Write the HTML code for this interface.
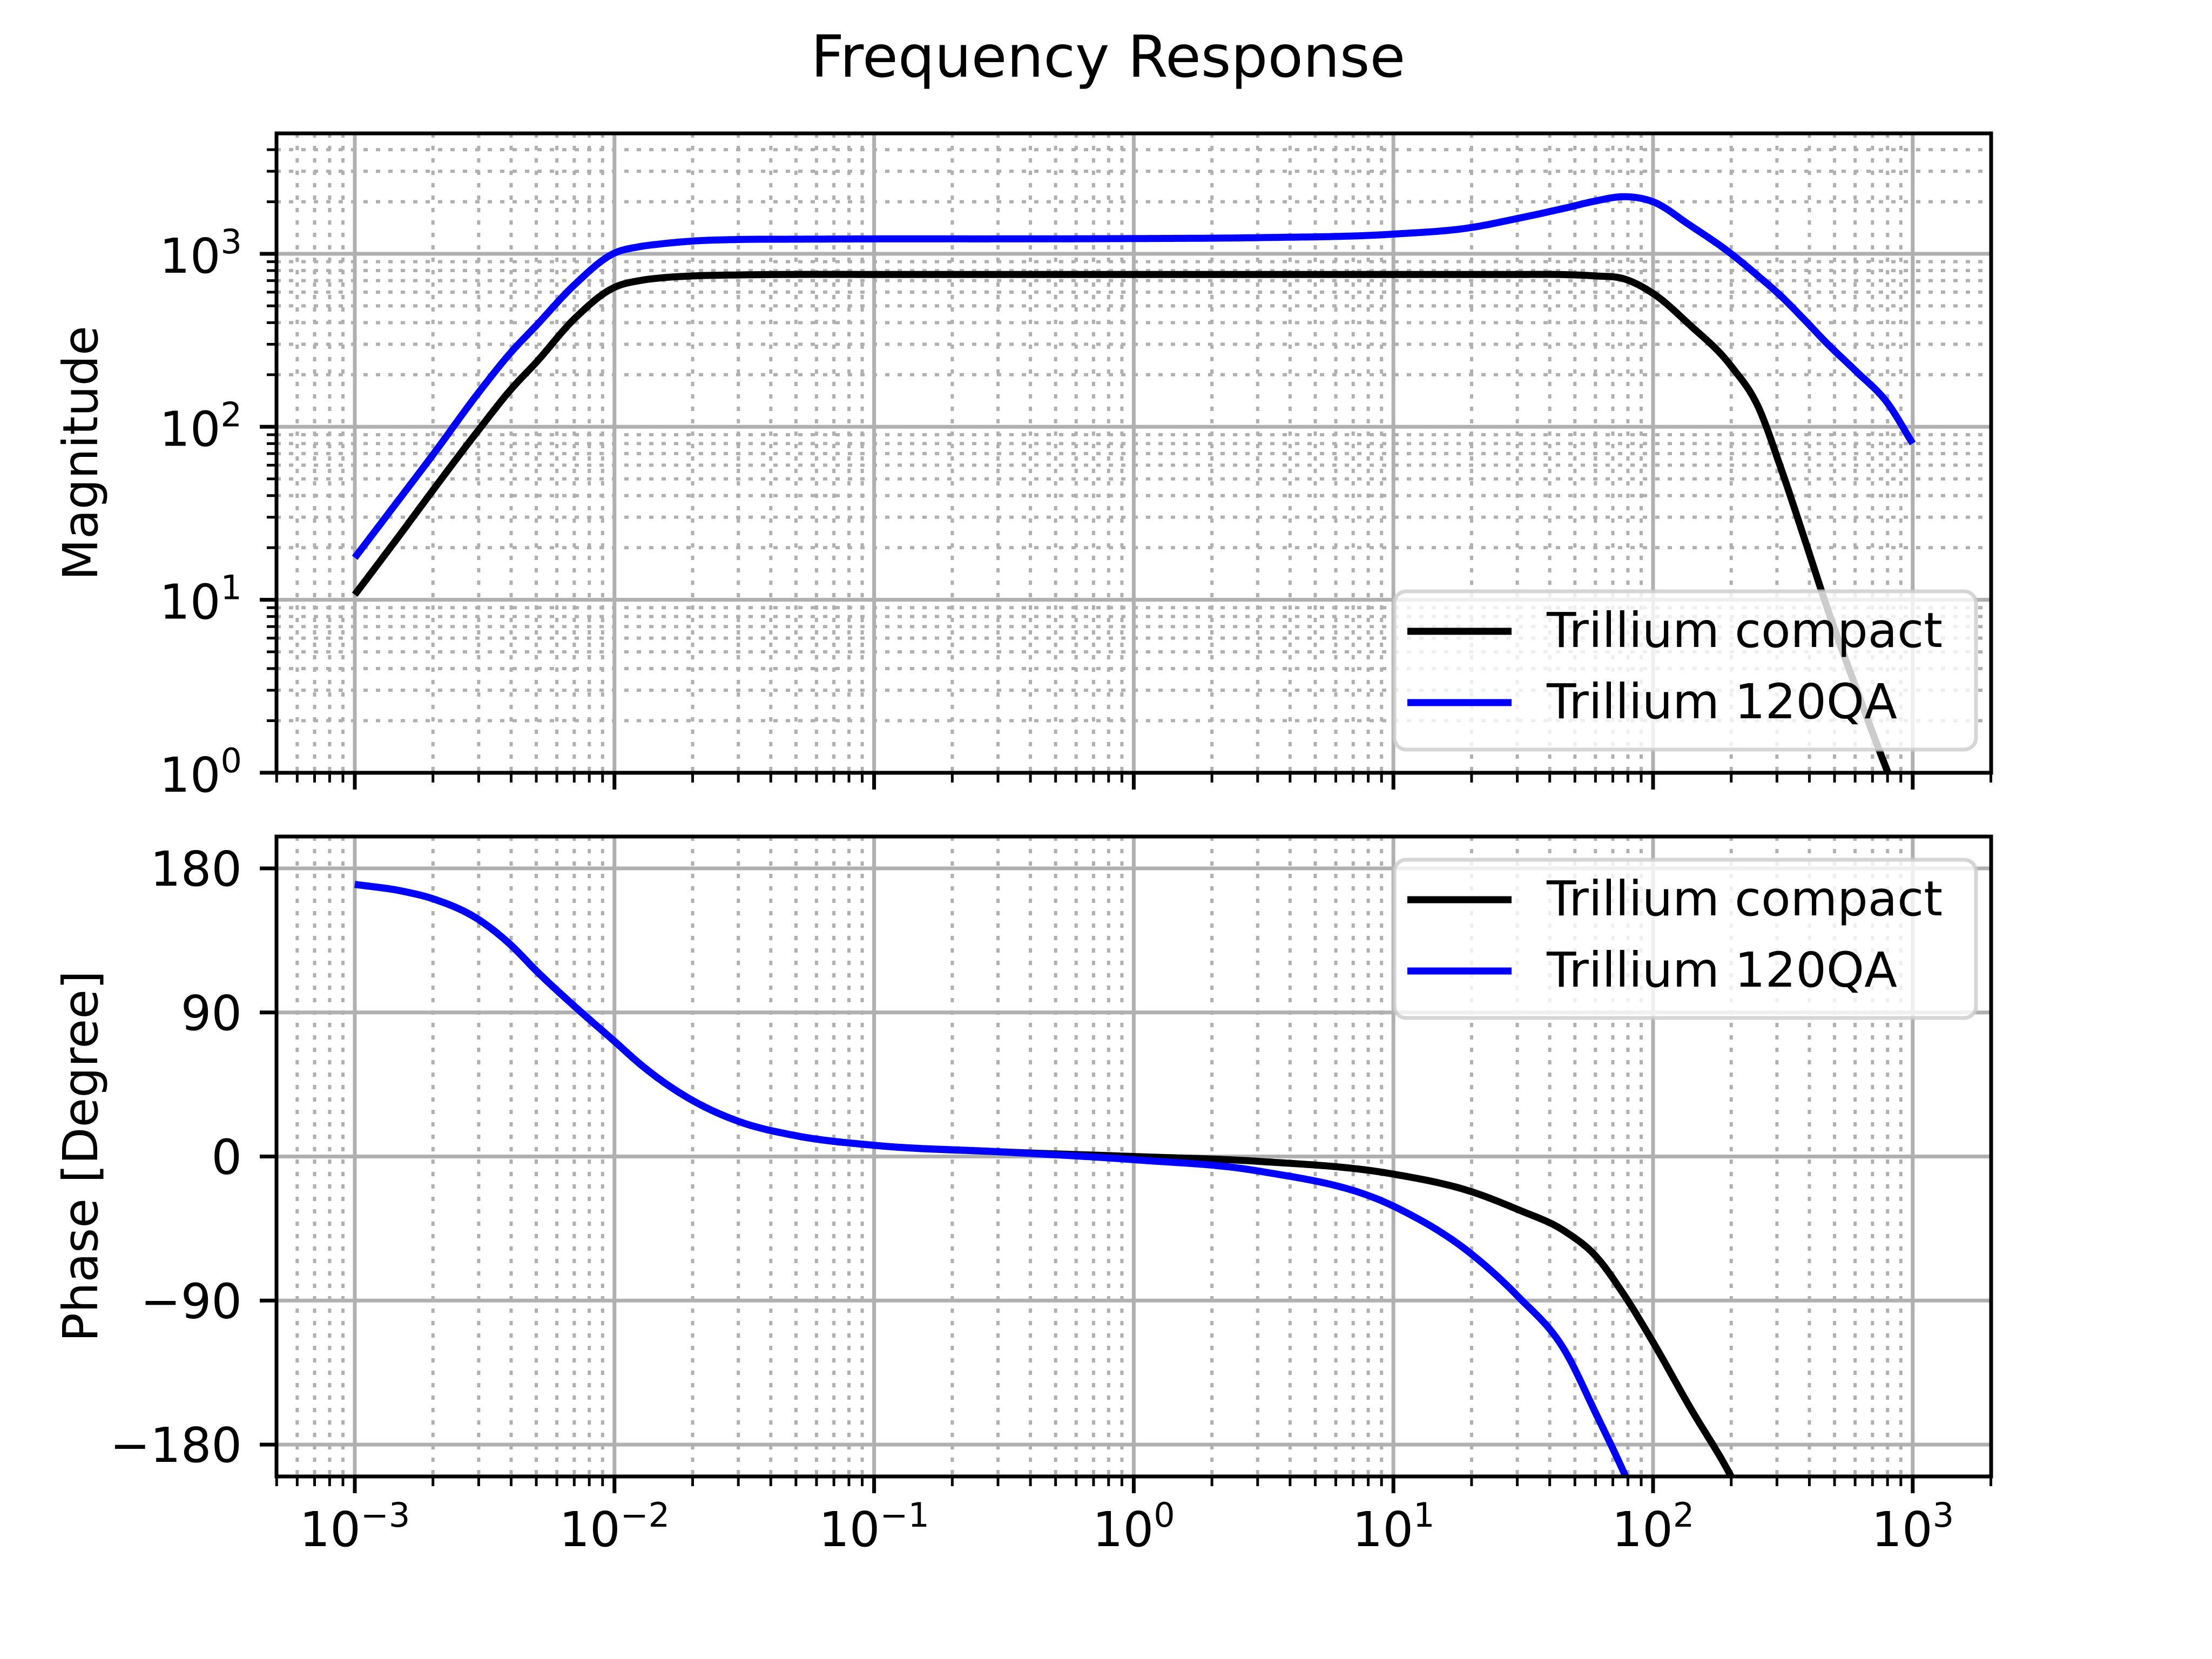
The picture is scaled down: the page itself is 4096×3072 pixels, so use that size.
<!DOCTYPE html>
<html><head><meta charset="utf-8"><style>
html,body{margin:0;padding:0;background:#fff;width:4096px;height:3072px;overflow:hidden;position:relative;}
svg{display:block;position:absolute;left:0;top:0;font-family:"DejaVu Sans","Liberation Sans",sans-serif;}
</style></head><body>
<svg id="chart" width="4096" height="3072" viewBox="0 0 4096 3072" xmlns="http://www.w3.org/2000/svg">
<rect width="4096" height="3072" fill="#fff"/>
<defs>
<clipPath id="clipTop"><rect x="512" y="247" width="3175" height="1184"/></clipPath>
<clipPath id="clipBot"><rect x="512" y="1549" width="3175" height="1185"/></clipPath>
</defs>
<text x="2052" y="142" font-size="107" text-anchor="middle">Frequency Response</text>
<g id="gridTop" clip-path="url(#clipTop)"></g>
<g id="gridBot" clip-path="url(#clipBot)"></g>
<g id="linesTop" clip-path="url(#clipTop)"></g>
<g id="linesBot" clip-path="url(#clipBot)"></g>
<g id="axes"></g>
<text x="0" y="0" font-size="89" text-anchor="middle" transform="translate(180 839) rotate(-90)">Magnitude</text>
<text x="0" y="0" font-size="89" text-anchor="middle" transform="translate(180 2141) rotate(-90)">Phase [Degree]</text>
<g id="legendTop">
<rect x="2582" y="1095" width="1077" height="293" rx="22" fill="#fff" fill-opacity="0.8" stroke="#cccccc" stroke-opacity="0.8" stroke-width="7"/>
<line x1="2606" y1="1169" x2="2799" y2="1169" stroke="#000" stroke-width="13"/>
<text x="2864" y="1198" font-size="89">Trillium compact</text>
<line x1="2606" y1="1301" x2="2799" y2="1301" stroke="#0000ff" stroke-width="13"/>
<text x="2864" y="1330" font-size="89">Trillium 120QA</text>
</g>
<g id="legendBot">
<rect x="2582" y="1592" width="1077" height="293" rx="22" fill="#fff" fill-opacity="0.8" stroke="#cccccc" stroke-opacity="0.8" stroke-width="7"/>
<line x1="2606" y1="1666" x2="2799" y2="1666" stroke="#000" stroke-width="13"/>
<text x="2864" y="1695" font-size="89">Trillium compact</text>
<line x1="2606" y1="1798" x2="2799" y2="1798" stroke="#0000ff" stroke-width="13"/>
<text x="2864" y="1827" font-size="89">Trillium 120QA</text>
</g>
</svg>
<script>
const freq = [0.001,0.0015,0.002,0.003,0.004,0.005,0.007,0.01,0.0125,0.015,0.02,0.03,0.05,0.1,0.3,1,3,10,20,30,46,60,77,100,138,200,255,309,385,468,600,803,1000];
const magCompact = [10.7,24,43,96,165,236,420,640,700,725,745,755,760,760,760,760,760,760,760,760,758,745,718,590,390,224,129,59,22,9,3.2,1.0,0.45];
const magQA = [17.5,39,69,158,270,385,660,1010,1100,1140,1185,1210,1215,1220,1220,1225,1240,1300,1420,1600,1840,2020,2140,2000,1470,1000,740,575,412,303,212,136,80];
const phaseCompact = [170,166,161,148,132,116,94,72,58,48,35,22,13,7,3,0,-3,-11,-22,-33,-47,-62,-86,-116,-156,-200,-235,-265,-290,-310,-330,-350,-360];
const phaseQA = [170,166,161,148,132,116,94,72,58,48,35,22,13,7,3,-2,-9,-31,-61,-87,-122,-160,-197,-240,-280,-320,-340,-355,-365,-370,-375,-380,-385];
const xTickExp = [-3,-2,-1,0,1,2,3];
const magTickExp = [0,1,2,3];
const phaseTicks = [180,90,0,-90,-180];

const NS="http://www.w3.org/2000/svg";
const X0=657, XD=480.8;
function xs(f){return X0+(Math.log10(f)+3)*XD;}
function yMag(m){return 470+(3-Math.log10(m))*320.3;}
function yPh(p){return 1608+(180-p)*2.964;}
function mk(tag,attrs,parent){const e=document.createElementNS(NS,tag);for(const k in attrs)e.setAttribute(k,attrs[k]);parent.appendChild(e);return e;}
const gT=document.getElementById('gridTop'), gB=document.getElementById('gridBot');
const ax=document.getElementById('axes');
const GR='#b0b0b0';
const LX=512, RX=3687, TT=247, TB=1431, BT=1549, BB=2734;
for(let d=-4; d<=3; d++){for(let k=2;k<=9;k++){const f=k*Math.pow(10,d);const x=xs(f);if(x<LX||x>RX)continue;
 let l=mk('line',{x1:x,y1:TT,x2:x,y2:TB,stroke:GR,'stroke-width':6,'stroke-dasharray':'8 15'},gT);
 
 
 l=mk('line',{x1:x,y1:BT,x2:x,y2:BB,stroke:GR,'stroke-width':6,'stroke-dasharray':'8 15'},gB);
 
 
 for(const [a,b] of [[TB,TB+18],[BB,BB+18]]){const t=mk('line',{x1:x,y1:a,x2:x,y2:b,stroke:'#000','stroke-width':5},ax);
 
 }
}}
for(let d=0; d<=3; d++){for(let k=2;k<=9;k++){const m=k*Math.pow(10,d);const y=yMag(m);if(y<TT)continue;
 const l=mk('line',{x1:LX,y1:y,x2:RX,y2:y,stroke:GR,'stroke-width':6,'stroke-dasharray':'8 15'},gT);
 
 
 const t=mk('line',{x1:LX-18,y1:y,x2:LX,y2:y,stroke:'#000','stroke-width':5},ax);
 
 
}}
xTickExp.forEach(e=>{const x=xs(Math.pow(10,e));
 let l=mk('line',{x1:x,y1:TT,x2:x,y2:TB,stroke:GR,'stroke-width':7},gT);
 
 
 l=mk('line',{x1:x,y1:BT,x2:x,y2:BB,stroke:GR,'stroke-width':7},gB);
 
 
 for(const a of [TB,BB]){const t=mk('line',{x1:x,y1:a,x2:x,y2:a+31,stroke:'#000','stroke-width':7},ax);
 
 }
 const tx=mk('text',{x:x,y:2863,'font-size':89,'text-anchor':'middle'},ax);
 
 
 tx.appendChild(document.createTextNode('10'));
 const sp=mk('tspan',{'font-size':62,dy:-36},tx);
 sp.textContent=(e<0?'\u2212':'')+Math.abs(e);
});
magTickExp.forEach(e=>{const y=yMag(Math.pow(10,e));
 const l=mk('line',{x1:LX,y1:y,x2:RX,y2:y,stroke:GR,'stroke-width':7},gT);
 
 
 const t=mk('line',{x1:LX-31,y1:y,x2:LX,y2:y,stroke:'#000','stroke-width':7},ax);
 
 
 const tx=mk('text',{x:448,y:y+35,'font-size':89,'text-anchor':'end'},ax);
 
 
 tx.appendChild(document.createTextNode('10'));
 const sp=mk('tspan',{'font-size':62,dy:-36},tx);
 sp.textContent=String(e);
});
phaseTicks.forEach(p=>{const y=yPh(p);
 const l=mk('line',{x1:LX,y1:y,x2:RX,y2:y,stroke:GR,'stroke-width':7},gB);
 
 
 const t=mk('line',{x1:LX-31,y1:y,x2:LX,y2:y,stroke:'#000','stroke-width':7},ax);
 
 
 const tx=mk('text',{x:448,y:y+32,'font-size':89,'text-anchor':'end'},ax);
 
 
 tx.textContent=(p<0?'\u2212':'')+Math.abs(p);
});
let s=mk('rect',{x:LX,y:TT,width:RX-LX,height:TB-TT,fill:'none',stroke:'#000','stroke-width':7},ax);


s=mk('rect',{x:LX,y:BT,width:RX-LX,height:BB-BT,fill:'none',stroke:'#000','stroke-width':7},ax);


function pathFrom(pts){
 const n=pts.length, m=new Array(n), dl=[];
 for(let i=0;i<n-1;i++) dl.push((pts[i+1][1]-pts[i][1])/(pts[i+1][0]-pts[i][0]));
 m[0]=dl[0]; m[n-1]=dl[n-2];
 for(let i=1;i<n-1;i++){
  const h0=pts[i][0]-pts[i-1][0], h1=pts[i+1][0]-pts[i][0];
  m[i]=(dl[i-1]*h1+dl[i]*h0)/(h0+h1);
 }
 let d='M'+pts[0][0].toFixed(1)+','+pts[0][1].toFixed(1);
 for(let i=0;i<n-1;i++){
  const x0=pts[i][0],y0=pts[i][1],x1=pts[i+1][0],y1=pts[i+1][1],h=x1-x0;
  const steps=Math.max(4,Math.ceil(h/6));
  for(let s=1;s<=steps;s++){const t=s/steps,t2=t*t,t3=t2*t;
   const y=(2*t3-3*t2+1)*y0+(t3-2*t2+t)*h*m[i]+(-2*t3+3*t2)*y1+(t3-t2)*h*m[i+1];
   d+=' L'+(x0+h*t).toFixed(1)+','+y.toFixed(1);}
 }
 return d;}
const lT=document.getElementById('linesTop'), lB=document.getElementById('linesBot');
let p=mk('path',{d:pathFrom(freq.map((f,i)=>[xs(f),yMag(magCompact[i])])),fill:'none',stroke:'#000','stroke-width':13,'stroke-linejoin':'round'},lT);


p=mk('path',{d:pathFrom(freq.map((f,i)=>[xs(f),yMag(magQA[i])])),fill:'none',stroke:'#0000ff','stroke-width':13,'stroke-linejoin':'round'},lT);


p=mk('path',{d:pathFrom(freq.map((f,i)=>[xs(f),yPh(phaseCompact[i])])),fill:'none',stroke:'#000','stroke-width':13,'stroke-linejoin':'round'},lB);


p=mk('path',{d:pathFrom(freq.map((f,i)=>[xs(f),yPh(phaseQA[i])])),fill:'none',stroke:'#0000ff','stroke-width':13,'stroke-linejoin':'round'},lB);


</script>
</body></html>
